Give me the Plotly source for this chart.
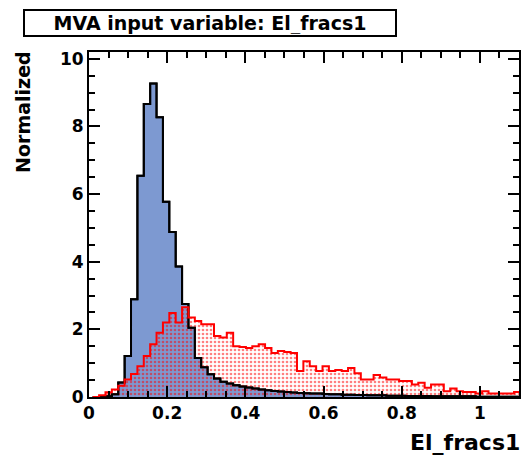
import numpy as np
import plotly.graph_objects as go

# ---- data ----
bin_lo = 0.0095
bin_w = 0.01633
signal = [0, 0, 0.02, 0.08, 0.43, 1.21, 2.89, 6.54, 8.66, 9.27,
          8.27, 5.77, 4.88, 3.86, 2.75, 2.05, 1.15, 0.88, 0.67, 0.55,
          0.45, 0.40, 0.35, 0.31, 0.28, 0.25, 0.22, 0.20, 0.18, 0.16,
          0.15, 0.13, 0.12, 0.11, 0.10, 0.10, 0.09, 0.08, 0.08, 0.07,
          0.07, 0.06, 0.06, 0.05, 0.05, 0.05, 0.04, 0.04, 0.04, 0.03,
          0.03, 0.03, 0.03, 0.02, 0.02, 0.02, 0.02, 0.02, 0.02, 0.02,
          0.01, 0.01, 0.01, 0.01, 0.01, 0.01, 0.01]
background = [0, 0.05, 0.14, 0.22, 0.33, 0.52, 0.68, 0.91, 1.21, 1.56,
              1.90, 2.20, 2.48, 2.20, 2.65, 2.35, 2.25, 2.15, 2.15, 1.80,
              1.76, 1.90, 1.50, 1.48, 1.45, 1.50, 1.56, 1.45, 1.30, 1.36,
              1.33, 1.30, 0.77, 1.06, 0.91, 0.77, 0.91, 0.77, 0.80, 0.77,
              0.86, 0.70, 0.52, 0.52, 0.65, 0.58, 0.52, 0.52, 0.47, 0.47,
              0.37, 0.42, 0.27, 0.37, 0.37, 0.17, 0.25, 0.17, 0.15, 0.15,
              0.10, 0.17, 0.10, 0.10, 0.10, 0.10, 0.15]
x_ticks = [0, 0.2, 0.4, 0.6, 0.8, 1.0]
x_tick_labels = ["0", "0.2", "0.4", "0.6", "0.8", "1"]
y_ticks = [0, 2, 4, 6, 8, 10]
y_tick_labels = ["0", "2", "4", "6", "8", "10"]
title_text = "MVA input variable: El_fracs1"
x_title = "El_fracs1"
y_title = "Normalized"

nb = len(signal)
edges = bin_lo + bin_w * np.arange(nb + 1)


def step_xy(vals):
    xs = np.concatenate([[edges[0]], edges])
    ys = np.concatenate([[0], vals, [0]])
    return xs, ys


FONT = "DejaVu Sans"
fig = go.Figure()

sx, sy = step_xy(signal)
bx, by = step_xy(background)

fig.add_trace(go.Scatter(x=sx, y=sy, mode="lines", line_shape="hv",
                         line=dict(color="black", width=2), fill="tozeroy",
                         fillcolor="#7d99d1", hoverinfo="skip"))
fig.add_trace(go.Scatter(x=bx, y=by, mode="lines", line_shape="hv",
                         line=dict(color="rgba(0,0,0,0)", width=0), fill="tozeroy",
                         fillcolor="rgba(0,0,0,0)",
                         fillpattern=dict(shape=".", fgcolor="#ff0000",
                                          bgcolor="rgba(0,0,0,0)", size=4,
                                          solidity=0.35),
                         hoverinfo="skip"))
fig.add_trace(go.Scatter(x=sx, y=sy, mode="lines", line_shape="hv",
                         line=dict(color="black", width=2), hoverinfo="skip"))
fig.add_trace(go.Scatter(x=bx, y=by, mode="lines", line_shape="hv",
                         line=dict(color="#ff0000", width=2), hoverinfo="skip"))

axis_common = dict(showgrid=False, zeroline=False, showline=True, linecolor="black",
                   linewidth=2, mirror="ticks", ticks="inside", tickcolor="black",
                   tickwidth=2, ticklen=11,
                   tickfont=dict(family=FONT, size=17, color="black", weight="bold"))

fig.update_xaxes(range=[0, 1.1], tickvals=x_ticks, ticktext=x_tick_labels,
                 minor=dict(dtick=0.05, tick0=0, ticks="inside", ticklen=6,
                            tickwidth=2, tickcolor="black"),
                 **axis_common)
fig.update_yaxes(range=[0, 10.2], tickvals=y_ticks, ticktext=y_tick_labels,
                 minor=dict(dtick=0.5, tick0=0, ticks="inside", ticklen=6,
                            tickwidth=2, tickcolor="black"),
                 **axis_common)

fig.add_annotation(text=title_text, xref="paper", yref="paper",
                   x=-0.153, y=1.1246, xanchor="left", yanchor="top",
                   showarrow=False, bordercolor="black", borderwidth=2,
                   borderpad=1, width=368, height=22, bgcolor="white",
                   font=dict(family=FONT, size=19, color="black", weight="bold"))
fig.add_annotation(text=x_title, xref="paper", yref="paper",
                   x=1.006, y=-0.09, xanchor="right", yanchor="top",
                   showarrow=False,
                   font=dict(family=FONT, size=22, color="black", weight="bold"))
fig.add_annotation(text=y_title, xref="paper", yref="paper",
                   x=-0.152, y=1.008, xanchor="center", yanchor="top",
                   textangle=-90, showarrow=False,
                   font=dict(family=FONT, size=19, color="black", weight="bold"))

fig.update_layout(width=523, height=458, margin=dict(l=89, r=2, t=52, b=61),
                  paper_bgcolor="white", plot_bgcolor="white", showlegend=False)

fig.write_html("out.html")
